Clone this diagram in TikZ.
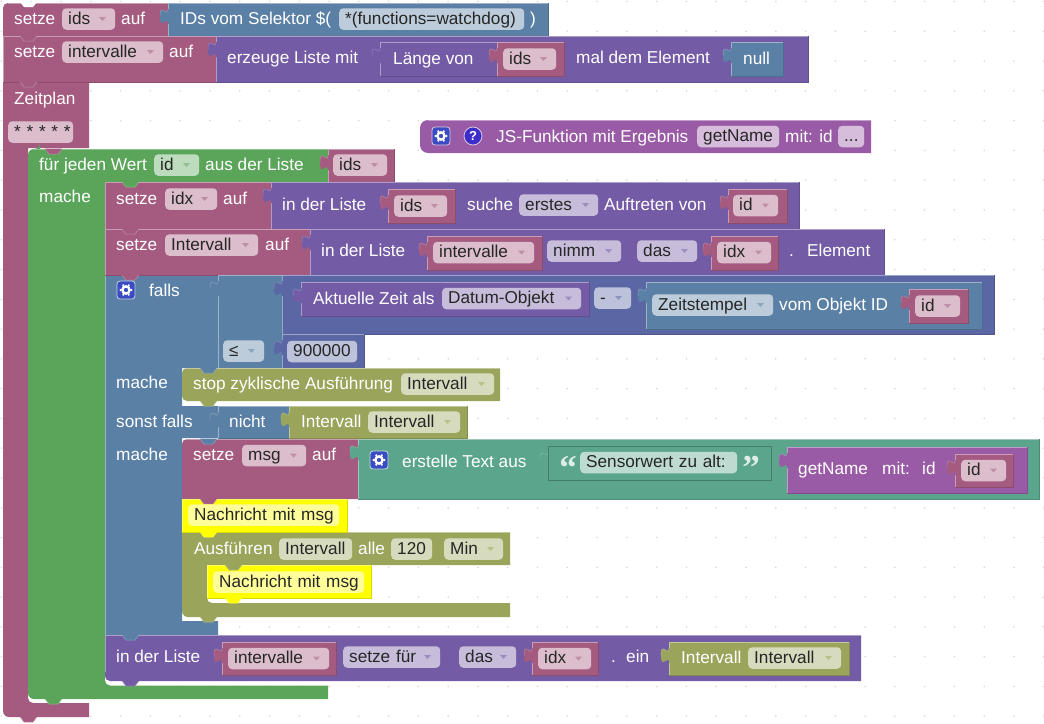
\documentclass[tikz,border=0pt]{standalone}
\usepackage{fontspec}
\setmainfont{Liberation Sans}
\newfontfamily\quotefont{Liberation Serif}
\definecolor{blockvar}{HTML}{A55B80}
\definecolor{blocklogic}{HTML}{5B80A5}
\definecolor{blocklist}{HTML}{745BA5}
\definecolor{blockloop}{HTML}{5BA55B}
\definecolor{blockmath}{HTML}{5B67A5}
\definecolor{blocktext}{HTML}{5BA58C}
\definecolor{blockfunc}{HTML}{995BA5}
\definecolor{blocktimer}{HTML}{9AA55B}
\definecolor{blockhl}{HTML}{FFFF00}
\definecolor{iconblue}{HTML}{3A4CC4}
\definecolor{iconhelp}{HTML}{3C2CC8}
\definecolor{griddot}{HTML}{DCDCDC}
\tikzset{
    lbltext/.style = {anchor=base west, inner sep=0pt, text=white, font=\fontsize{17.2}{19}\selectfont},
    fieldbox/.style = {anchor=west, rounded corners=4, inner xsep=6pt, inner ysep=0pt, minimum height=21.5pt, text height=13pt, text depth=3pt, text=black!85, align=left, font=\fontsize{17.2}{19}\selectfont},
    quotetext/.style = {inner sep=0pt, text=blocktext!20!white, font=\quotefont\fontsize{35}{35}\selectfont\bfseries}
}
% block with light upper edge and dark lower edge
\newcommand{\blk}[5]{
    \fill[#5] (#1,#2) rectangle (#3,#4);
    \draw[#5!60!white, line width=0.8pt] (#1,#4) -- (#1,#2) -- (#3,#2);
    \draw[#5!85!black, line width=0.8pt] (#1,#4) -- (#3,#4) -- (#3,#2);
}
% the puzzle tab on the left of a value block
\newcommand{\tab}[3]{
    \fill[#3] (#1+1,#2) -- (#1,#2) .. controls (#1,#2+10) and (#1-8,#2-8) .. (#1-8,#2+7.5) .. controls (#1-8,#2+23) and (#1,#2+5) .. (#1,#2+15) -- (#1+1,#2+15) -- cycle;
    \draw[#3!75!white, line width=0.5pt] (#1,#2) .. controls (#1,#2+10) and (#1-8,#2-8) .. (#1-8,#2+7.5);
}
\newcommand{\valblk}[5]{
    \blk{#1}{#2}{#3}{#4}{#5}
    \tab{#1}{#2+6}{#5}
}
\newcommand{\bump}[3]{
    \fill[#3] (#1,#2-0.5) -- (#1+4,#2+5) -- (#1+13,#2+5) -- (#1+17,#2-0.5) -- cycle;
    \draw[#3!70!white, line width=0.5pt] (#1,#2) -- (#1+4,#2+5) -- (#1+13,#2+5) -- (#1+17,#2);
}
\newcommand{\lbl}[4]{\node[lbltext] (#1) at (#2,#3+6) {#4};}
% name, colour, x left, x right, y middle, text
\newcommand{\fld}[6]{
    \pgfmathsetmacro{\fldw}{#4-#3-12}
    \node[fieldbox, fill=#2!40!white, text width=\fldw pt] (#1) at (#3,#5) {\mbox{#6}};
}
\newcommand{\drop}[6]{
    \fld{#1}{#2}{#3}{#4}{#5}{#6}
    \fill[#2!70!white] (#4-16,#5-2) -- (#4-9,#5-2) -- (#4-12.5,#5+2) -- cycle;
}
\newcommand{\gearicon}[3]{
    \fill[iconblue, draw=#3!35!white, line width=0.8pt, rounded corners=3] (#1-9,#2-9) rectangle (#1+9,#2+9);
    \foreach \a in {0,60,...,300}
        \fill[white] ({#1+5.4*cos(\a)},{#2+5.4*sin(\a)}) circle (1.2);
    \draw[white, line width=2.4pt] (#1,#2) circle (3.6);
}
\begin{document}
\begin{tikzpicture}[x=1pt,y=-1pt]
    \useasboundingbox (0,0) rectangle (1044,723);
    % workspace grid
    \foreach \i in {0,...,35}
        \foreach \j in {0,...,24}
            \fill[griddot] ({1.5+29.78*\i},{1.5+29.78*\j}) circle (1);

    % outer blocks first
    \fill[blockvar] (3,82) -- (89,82) -- (89,148) -- (28,148) -- (28,160) [rounded corners=5] -- (28,703) -- (80,703) [sharp corners] -- (89,703) -- (89,717) -- (20,717) [rounded corners=6] -- (3,717) -- (3,700) [sharp corners] -- cycle;
    \fill[blockloop] (40,149) -- (328,149) -- (328,182) -- (105,182) -- (105,190) [rounded corners=5] -- (105,685.5) -- (320,685.5) [sharp corners] -- (328,685.5) -- (328,699) -- (50,699) [rounded corners=6] -- (28,699) -- (28,149) -- (40,149) [sharp corners] -- cycle;
    \draw[blockloop!70!white, line width=0.6pt] (34,149) -- (328,149);
    \fill[blocklogic] (105,275) -- (218,275) -- (218,368) -- (182,368) -- (182,406) -- (218,406) -- (218,438) -- (182,438) -- (182,621) -- (218,621) -- (218,635) -- (105,635) -- cycle;
    \draw[blocklogic!60!white, line width=0.8pt] (105,635) -- (105,275) -- (218,275);

    % first two rows
    \fill[blockvar] (20,3) [rounded corners=5] -- (3,3) -- (3,20) [sharp corners] -- (3,36) -- (168,36) -- (168,3) -- cycle;
    \draw[blockvar!60!white, line width=0.6pt] (8,3) -- (168,3);
    \fill[white] (20,2) -- (24,7) -- (33,7) -- (37,2) -- cycle;
    \valblk{168}{3}{548}{36}{blocklogic}
    \lbl{setzeIds}{14}{18}{setze}
    \drop{fldIds}{blockvar}{62}{115}{19}{ids}
    \lbl{aufIds}{121}{18}{auf}
    \lbl{selektor}{180}{18}{IDs vom Selektor \$(}
    \fld{fldSelektor}{blocklogic}{339}{524}{19}{*(functions=watchdog)}
    \lbl{selektorEnd}{530}{18}{)}
    \blk{3}{36}{216}{82}{blockvar}
    \bump{20}{36}{blockvar}
    \valblk{216}{36}{808}{82}{blocklist}
    \lbl{setzeIntervalle}{14}{51}{setze}
    \drop{fldIntervalle}{blockvar}{62}{163}{52}{intervalle}
    \lbl{aufIntervalle}{169}{51}{auf}
    \lbl{erzeuge}{227}{57}{erzeuge Liste mit}
    \valblk{380}{42}{564}{76}{blocklist}
    \lbl{laenge}{393}{58}{Länge von}
    \valblk{497}{42}{564}{76}{blockvar}
    \drop{fldLaenge}{blockvar}{503}{556}{59}{ids}
    \lbl{malDem}{576}{57}{mal dem Element}
    \valblk{731}{42}{783}{76}{blocklogic}
    \lbl{nullWert}{743}{58}{null}

    % function block
    \fill[blockfunc] (440,120) [rounded corners=8] -- (420,120) -- (420,153) -- (440,153) [sharp corners] -- (871,153) -- (871,120) -- cycle;
    \draw[blockfunc!60!white, line width=0.8pt] (428,120) -- (871,120);
    \gearicon{441}{136}{blockfunc}
    \fill[iconhelp, draw=blockfunc!35!white, line width=0.8pt] (473,136) circle (9);
    \node[inner sep=0pt, text=white, font=\fontsize{13}{13}\selectfont\bfseries] (hilfe) at (473,136) {?};
    \lbl{jsFunktion}{496}{136}{JS-Funktion mit Ergebnis}
    \fld{fldGetName}{blockfunc}{697}{779}{136.5}{getName}
    \lbl{mitId}{785}{136}{mit: id}
    \fld{fldMehr}{blockfunc}{838}{864}{136.5}{...}

    % timer
    \lbl{zeitplan}{14}{98}{Zeitplan}
    \fld{fldZeitplan}{blockvar}{8}{73}{132}{* * * * *}
    \bump{20}{82}{blockvar}
    \bump{45}{149}{blockvar}

    % loop head
    \lbl{fuerJeden}{39}{164}{für jeden Wert}
    \drop{fldId}{blockloop}{154}{199}{165}{id}
    \lbl{ausDer}{205}{164}{aus der Liste}
    \valblk{328}{149}{394}{182}{blockvar}
    \drop{fldLoopIds}{blockvar}{333}{387}{165}{ids}
    \lbl{macheLoop}{39}{196}{mache}

    % setze idx
    \blk{105}{182}{271}{229}{blockvar}
    \bump{122}{182}{blockloop}
    \valblk{271}{182}{799}{229}{blocklist}
    \lbl{setzeIdx}{116}{198}{setze}
    \drop{fldIdx}{blockvar}{165}{217}{199}{idx}
    \lbl{aufIdx}{223}{198}{auf}
    \lbl{inDerListeA}{282}{204}{in der Liste}
    \valblk{388}{189}{455}{223}{blockvar}
    \drop{fldSucheIds}{blockvar}{394}{447}{206}{ids}
    \lbl{suche}{467}{204}{suche}
    \drop{fldErstes}{blocklist}{519}{598}{205}{erstes}
    \lbl{auftreten}{604}{204}{Auftreten von}
    \valblk{728}{189}{787}{223}{blockvar}
    \drop{fldSucheId}{blockvar}{733}{778}{205.5}{id}

    % setze Intervall
    \blk{105}{229}{310}{275}{blockvar}
    \bump{122}{229}{blockvar}
    \valblk{310}{229}{884}{275}{blocklist}
    \lbl{setzeIntervall}{116}{244}{setze}
    \drop{fldIntervall}{blockvar}{165}{258}{245}{Intervall}
    \lbl{aufIntervall}{265}{244}{auf}
    \lbl{inDerListeB}{321}{250}{in der Liste}
    \valblk{427}{236}{542}{270}{blockvar}
    \drop{fldNimmListe}{blockvar}{433}{534}{252.5}{intervalle}
    \drop{fldNimm}{blocklist}{547}{621}{251}{nimm}
    \drop{fldDasA}{blocklist}{637}{697}{251}{das}
    \valblk{711}{236}{778}{270}{blockvar}
    \drop{fldNimmIdx}{blockvar}{717}{771}{252.5}{idx}
    \lbl{punktA}{789}{250}{.}
    \lbl{elementA}{807}{250}{Element}

    % falls
    \bump{122}{275}{blockvar}
    \gearicon{126}{290}{blocklogic}
    \lbl{falls}{149}{290}{falls}
    \valblk{218}{275}{282}{368}{blocklogic}
    \valblk{282}{275}{994}{334}{blockmath}
    \valblk{301}{282}{589}{316}{blocklist}
    \lbl{aktuelleZeit}{313}{298}{Aktuelle Zeit als}
    \drop{fldDatum}{blocklist}{442}{581}{298.5}{Datum-Objekt}
    \drop{fldMinus}{blockmath}{594}{631}{298}{-}
    \valblk{646}{282}{982}{329}{blocklogic}
    \drop{fldZeitstempel}{blocklogic}{652}{773}{305}{Zeitstempel}
    \lbl{vomObjekt}{779}{304}{vom Objekt ID}
    \valblk{909}{289}{968}{323}{blockvar}
    \drop{fldObjektId}{blockvar}{915}{960}{306}{id}
    \drop{fldKleiner}{blocklogic}{223}{264}{351}{≤}
    \valblk{282}{334}{364}{368}{blockmath}
    \fld{fldZahl}{blockmath}{287}{357}{351.5}{900000}

    % stop
    \lbl{macheFalls}{116}{382}{mache}
    \fill[blocktimer] (200,368) [rounded corners=5] -- (182,368) -- (182,401) -- (200,401) [sharp corners] -- (500,401) -- (500,368) -- cycle;
    \draw[blocktimer!60!white, line width=0.8pt] (186,368) -- (500,368);
    \bump{200}{368}{blocklogic}
    \bump{200}{401}{blocktimer}
    \lbl{stopZyklisch}{193}{383}{stop zyklische Ausführung}
    \drop{fldStop}{blocktimer}{401}{494}{384}{Intervall}

    % sonst falls
    \lbl{sonstFalls}{116}{421}{sonst falls}
    \valblk{218}{406}{289}{438}{blocklogic}
    \lbl{nicht}{229}{421}{nicht}
    \valblk{289}{406}{467}{438}{blocktimer}
    \lbl{intervallA}{301}{421}{Intervall}
    \drop{fldNicht}{blocktimer}{368}{460}{422}{Intervall}

    % setze msg
    \lbl{macheSonst}{116}{454}{mache}
    \fill[blockvar] (200,439) [rounded corners=5] -- (182,439) -- (182,470) [sharp corners] -- (182,499) -- (358,499) -- (358,439) -- cycle;
    \draw[blockvar!60!white, line width=0.8pt] (186,439) -- (358,439);
    \bump{200}{439}{blocklogic}
    \valblk{358}{439}{1039}{499}{blocktext}
    \lbl{setzeMsg}{193}{454}{setze}
    \drop{fldMsg}{blockvar}{242}{306}{455.5}{msg}
    \lbl{aufMsg}{312}{454}{auf}
    \gearicon{379}{460}{blocktext}
    \lbl{erstelleText}{402}{461}{erstelle Text aus}
    \valblk{548}{446}{771}{480}{blocktext}
    \draw[blocktext!75!black, line width=0.7pt] (548,446) rectangle (771,480);
    \node[quotetext, anchor=base] (quoteOpen) at (568,479) {“};
    \fld{fldSensor}{blocktext}{580}{737}{462.5}{Sensorwert zu alt:}
    \node[quotetext, anchor=base] (quoteClose) at (751,479) {”};
    \valblk{787}{447}{1027}{493}{blockfunc}
    \lbl{getNameLbl}{798}{468}{getName}
    \lbl{mitLbl}{882}{468}{mit:}
    \lbl{idLbl}{922}{468}{id}
    \valblk{955}{454}{1013}{487}{blockvar}
    \drop{fldGetId}{blockvar}{961}{1006}{470.5}{id}

    % message and interval
    \fill[blocktimer] (182,532) -- (510,532) -- (510,565) -- (207,565) -- (207,580) [rounded corners=5] -- (207,603) -- (500,603) [sharp corners] -- (510,603) -- (510,617) -- (200,617) [rounded corners=6] -- (182,617) -- (182,600) [sharp corners] -- cycle;
    \draw[blocktimer!60!white, line width=0.8pt] (182,532) -- (510,532);
    \blk{182}{499}{347}{532}{blockhl}
    \bump{200}{499}{blockvar}
    \bump{200}{532}{blockhl}
    \fld{fldNachrichtA}{blockhl}{188}{339}{515}{Nachricht mit msg}
    \lbl{ausfuehren}{194}{548}{Ausführen}
    \fld{fldAusfuehren}{blocktimer}{279}{352}{549}{Intervall}
    \lbl{alle}{358}{548}{alle}
    \fld{fldZeit}{blocktimer}{391}{432}{549}{120}
    \drop{fldMin}{blocktimer}{444}{503}{549}{Min}
    \blk{207}{565}{371}{598}{blockhl}
    \bump{225}{565}{blocktimer}
    \bump{225}{598}{blockhl}
    \fld{fldNachrichtB}{blockhl}{213}{364}{582}{Nachricht mit msg}
    \bump{200}{617}{blocktimer}

    % in der Liste
    \fill[blocklist] (105,635) -- (861,635) -- (861,681) -- (120,681) [rounded corners=5] -- (105,681) -- (105,670) [sharp corners] -- cycle;
    \draw[blocklist!60!white, line width=0.8pt] (105,672) -- (105,635) -- (861,635);
    \bump{122}{635}{blocklogic}
    \bump{122}{681}{blocklist}
    \bump{45}{699}{blockloop}
    \bump{20}{717}{blockvar}
    \lbl{inDerListeC}{116}{656}{in der Liste}
    \valblk{222}{642}{336}{675}{blockvar}
    \drop{fldSetzeListe}{blockvar}{228}{329}{658.5}{intervalle}
    \drop{fldSetzeFuer}{blocklist}{343}{440}{657}{setze für}
    \drop{fldDasB}{blocklist}{459}{516}{657}{das}
    \valblk{532}{642}{598}{675}{blockvar}
    \drop{fldSetzeIdx}{blockvar}{538}{591}{658.5}{idx}
    \lbl{punktB}{611}{656}{.}
    \lbl{ein}{626}{656}{ein}
    \valblk{669}{642}{849}{675}{blocktimer}
    \lbl{intervallB}{681}{657}{Intervall}
    \drop{fldEin}{blocktimer}{748}{841}{658}{Intervall}
\end{tikzpicture}
\end{document}
